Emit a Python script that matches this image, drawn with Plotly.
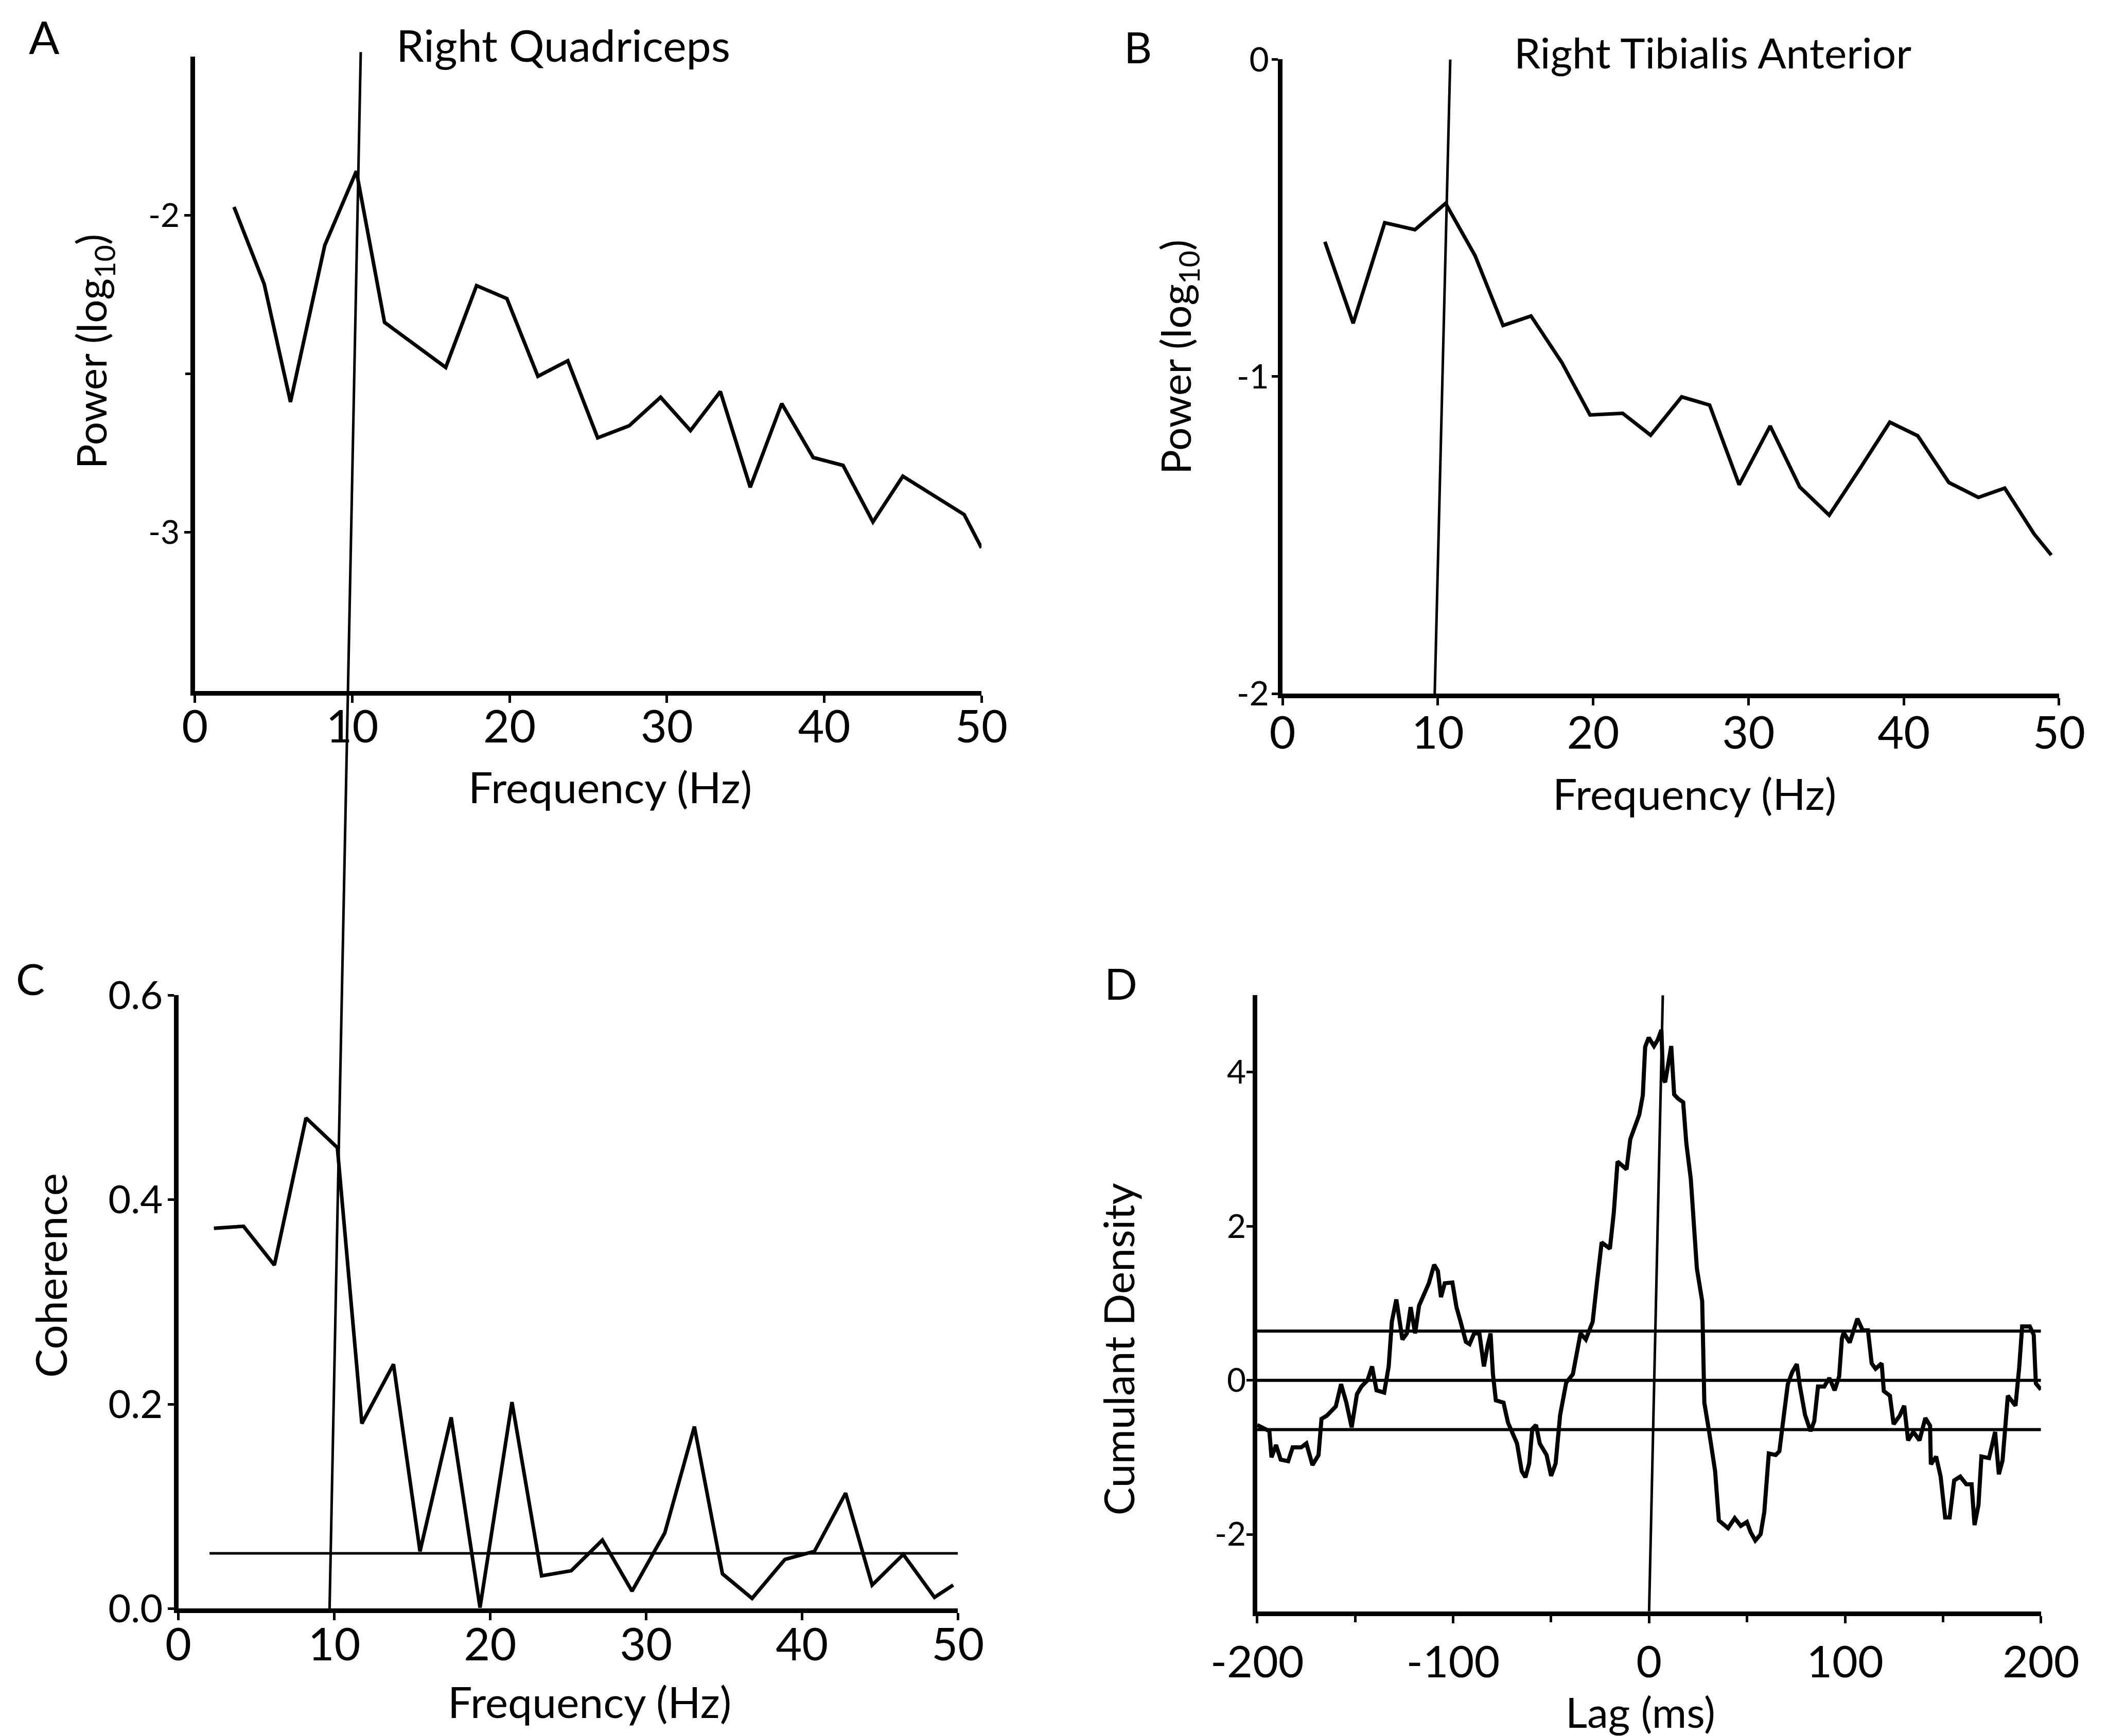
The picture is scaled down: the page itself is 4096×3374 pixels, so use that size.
import plotly.graph_objects as go

# ---------------- data ----------------
# A: Right quadriceps power spectrum (log10)
A_FREQ = [2.48, 4.40, 6.07, 8.25, 10.26, 12.05, 15.94, 17.9, 19.83, 21.8, 23.7, 25.6,
          27.6, 29.6, 31.5, 33.4, 35.3, 37.3, 39.3, 41.2, 43.1, 45.0, 48.9, 50.0]
A_POWER = [-1.974, -2.217, -2.589, -2.095, -1.861, -2.338, -2.480, -2.222, -2.263, -2.508,
           -2.459, -2.702, -2.664, -2.574, -2.679, -2.556, -2.858, -2.594, -2.764, -2.789,
           -2.967, -2.823, -2.944, -3.049]

# B: Right tibialis anterior power spectrum (log10)
B_FREQ = [2.73, 4.55, 6.58, 8.53, 10.5, 12.4, 14.2, 16.0, 18.0, 19.8, 21.9, 23.7, 25.7,
          27.5, 29.4, 31.4, 33.3, 35.2, 37.1, 39.1, 40.9, 42.9, 44.8, 46.5, 48.4, 49.5]
B_POWER = [-0.575, -0.832, -0.515, -0.537, -0.454, -0.619, -0.839, -0.809, -0.957, -1.121,
           -1.116, -1.185, -1.064, -1.090, -1.341, -1.156, -1.348, -1.437, -1.296, -1.144,
           -1.187, -1.334, -1.381, -1.352, -1.497, -1.563]

# C: coherence between the two muscles
C_FREQ = [2.28, 4.18, 6.16, 8.19, 10.2, 11.77, 13.8, 15.5, 17.5, 19.35, 21.4, 23.3, 25.2,
          27.2, 29.1, 31.2, 33.1, 34.9, 36.8, 38.9, 40.8, 42.8, 44.5, 46.5, 48.5, 49.7]
C_COHERENCE = [0.372, 0.374, 0.336, 0.480, 0.451, 0.181, 0.239, 0.056, 0.187, 0.001, 0.202,
               0.032, 0.037, 0.067, 0.017, 0.074, 0.178, 0.034, 0.010, 0.048, 0.056, 0.113,
               0.023, 0.053, 0.011, 0.023]
C_CONF_LEVEL = 0.054
C_CONF_SPAN = [2.0, 50.0]

# D: cumulant density
D_LAG = [-200, -193.8, -192.7, -190.4, -188.0, -184.2, -181.9, -177.6, -174.9, -171.8,
         -168.7, -167.2, -164.5, -159.9, -157.2, -154.5, -151.8, -149.1, -146.8, -143.7,
         -141.4, -139.1, -135.2, -132.9, -131.3, -129.0, -125.9, -123.6, -121.7, -119.4,
         -117.4, -114.4, -112.4, -109.7, -107.8, -106.2, -104.3, -100.4,
         -98.3, -96.2, -93.5, -91.6, -89.3, -86.6, -84.3, -82.4, -80.9, -79.7,
         -78.2, -74.3, -72.0, -67.4, -65.0, -63.1, -61.2, -59.6, -57.7, -55.8,
         -52.3, -50.0, -47.7, -45.4, -42.3, -38.9, -35.0, -32.3, -28.8, -26.5,
         -24.2, -20.0, -18.0, -16.1, -11.5, -9.6, -5.0, -3.2, -2.0,
         -0.2, 2.5, 4.4, 6.3, 7.1, 8.2, 9.4, 11.3, 12.8, 14.7,
         17.4, 19.0, 21.3, 22.8, 24.4, 27.1, 28.2, 30.6, 33.7, 35.6,
         37.9, 40.3, 43.7, 46.8, 49.9, 51.8, 54.2, 56.9, 58.8, 61.1,
         64.6, 66.5, 68.8, 70.8, 73.1, 75.4, 77.0, 79.6, 82.4, 84.3,
         86.2, 89.4, 92.0, 94.7, 97.0,
         98.4, 99.3, 102.4, 106.3, 109.0, 111.7, 113.6, 115.6, 118.7, 119.8,
         122.9, 124.8, 127.9, 130.2, 132.2, 134.9, 138.0, 141.0, 143.4, 143.8,
         146.5, 148.8, 151.1, 153.4, 155.7, 158.8, 161.9, 164.6, 166.1, 168.1,
         169.6, 173.5, 176.6, 178.5, 180.4, 183.1, 187.0, 188.9, 190.4, 194.3,
         196.3, 197.4, 200]
D_CUMULANT = [-0.58, -0.66, -1.0, -0.84, -1.03, -1.05, -0.87, -0.87, -0.82, -1.1,
              -0.97, -0.5, -0.46, -0.34, -0.05, -0.29, -0.61, -0.18, -0.08, 0.0,
              0.18, -0.13, -0.16, 0.18, 0.76, 1.05, 0.53, 0.61, 0.95, 0.61,
              0.97, 1.16, 1.26, 1.5, 1.42, 1.08, 1.26, 1.27,
              0.95, 0.76, 0.5, 0.47, 0.61, 0.61, 0.18, 0.45, 0.61, 0.08,
              -0.26, -0.29, -0.55, -0.82, -1.18, -1.26, -1.08, -0.63, -0.58, -0.82,
              -0.97, -1.24, -1.08, -0.45, -0.03, 0.08, 0.61, 0.53, 0.76, 1.29,
              1.79, 1.71, 2.18, 2.84, 2.74, 3.13, 3.45, 3.7, 4.33,
              4.45, 4.34, 4.42, 4.55, 3.92, 3.87, 4.05, 4.34, 3.71, 3.66,
              3.61, 3.08, 2.61, 2.03, 1.45, 1.03, -0.29, -0.66, -1.18, -1.82,
              -1.87, -1.92, -1.79, -1.89, -1.84, -1.97, -2.08, -2.0, -1.71, -0.95,
              -0.97, -0.92, -0.45, -0.05, 0.11, 0.21, -0.08, -0.45, -0.66, -0.53,
              -0.08, -0.08, 0.03, -0.13, 0.05,
              0.54, 0.62, 0.49, 0.80, 0.65, 0.65, 0.22, 0.15, 0.22, -0.14,
              -0.20, -0.57, -0.46, -0.33, -0.78, -0.67, -0.78, -0.49, -0.59, -1.09,
              -0.99, -1.25, -1.78, -1.78, -1.30, -1.25, -1.35, -1.35, -1.88, -1.62,
              -0.99, -1.01, -0.67, -1.22, -1.04, -0.20, -0.33, 0.17, 0.70, 0.70,
              0.59, -0.04, -0.12]
D_CONF_LIMIT = 0.64
D_LAG_SPAN = [-200, 200]

# cursor lines (frequency / lag at bottom and top of each cursor)
CURSOR_AC_HZ = [9.7, 11.7]     # runs from bottom of C to top of A
CURSOR_B_HZ = [9.8, 10.8]
CURSOR_D_MS = [0.0, 7.0]

FREQ_TICKS = [0, 10, 20, 30, 40, 50]
A_YTICKS = [-3, -2]
B_YTICKS = [-2, -1, 0]
C_YTICKS = [0.0, 0.2, 0.4, 0.6]
D_XTICKS = [-200, -100, 0, 100, 200]
D_YTICKS = [-2, 0, 2, 4]

# ---------------- styling ----------------
FONT = "Lato"
INK = "black"
AXIS_W = 9
DATA_W = 7
THIN_W = 5

fig = go.Figure()


def line(x, y, xa, ya, width=DATA_W):
    fig.add_trace(go.Scatter(x=x, y=y, mode="lines", xaxis=xa, yaxis=ya,
                             line=dict(color=INK, width=width), showlegend=False,
                             hoverinfo="skip"))


line(A_FREQ, A_POWER, "x", "y")
line(B_FREQ, B_POWER, "x2", "y2")
line(C_FREQ, C_COHERENCE, "x3", "y3")
line(C_CONF_SPAN, [C_CONF_LEVEL, C_CONF_LEVEL], "x3", "y3", THIN_W)
for lvl in (D_CONF_LIMIT, 0.0, -D_CONF_LIMIT):
    line(D_LAG_SPAN, [lvl, lvl], "x4", "y4", 6)
line(D_LAG, D_CUMULANT, "x4", "y4", 8)


def axis(domain, rng, tickvals, ticktext, size, ticklen, standoff, anchor, minor=None):
    d = dict(domain=domain, range=rng, tickmode="array", tickvals=tickvals,
             ticktext=ticktext, ticks="outside", ticklen=ticklen, tickwidth=5,
             tickcolor=INK, showline=True, linewidth=AXIS_W, linecolor=INK,
             showgrid=False, zeroline=False, anchor=anchor, automargin=False,
             tickfont=dict(family=FONT, size=size, color=INK),
             ticklabelstandoff=standoff)
    if minor:
        d["minor"] = minor
    return d


def fmt(vals, pattern="{:g}"):
    return [pattern.format(v).replace("\u2212", "-") for v in vals]


fig.update_layout(
    width=4096, height=3374,
    margin=dict(l=0, r=0, t=0, b=0, pad=0, autoexpand=False),
    paper_bgcolor="white", plot_bgcolor="white",
    xaxis=axis([0.0925, 0.4656], [0, 50], FREQ_TICKS, fmt(FREQ_TICKS), 88, 14, -28, "y"),
    yaxis=axis([0.602, 0.9674], [-3.5, -1.5], A_YTICKS, fmt(A_YTICKS), 64, 12, -4, "x",
               minor=dict(tickvals=[-2.5], ticklen=10, tickwidth=5, ticks="outside",
                          tickcolor=INK)),
    xaxis2=axis([0.6084, 0.9768], [0, 50], FREQ_TICKS, fmt(FREQ_TICKS), 88, 14, -22, "y2"),
    yaxis2=axis([0.6004, 0.9658], [-2, 0], B_YTICKS, fmt(B_YTICKS), 66, 12, -8, "x2"),
    xaxis3=axis([0.0846, 0.4544], [0, 50], FREQ_TICKS, fmt(FREQ_TICKS), 88, 14, -28, "y3"),
    yaxis3=axis([0.0734, 0.4267], [0, 0.6], C_YTICKS, fmt(C_YTICKS, "{:.1f}"), 76, 12, -6, "x3"),
    xaxis4=axis([0.5964, 0.9682], [-200, 200], D_XTICKS, fmt(D_XTICKS), 86, 14, 2, "y4",
                minor=dict(tickvals=[-150, -50, 50, 150], ticklen=12, tickwidth=5,
                           ticks="outside", tickcolor=INK)),
    yaxis4=axis([0.0718, 0.4267], [-3, 5], D_YTICKS, fmt(D_YTICKS), 64, 12, -12, "x4"),
)

# cursor lines
fig.add_shape(type="line", xref="x3", yref="paper",
              x0=CURSOR_AC_HZ[0], y0=0.0734, x1=CURSOR_AC_HZ[1], y1=0.970,
              line=dict(color=INK, width=THIN_W), layer="above")
fig.add_shape(type="line", xref="x2", yref="y2",
              x0=CURSOR_B_HZ[0], y0=-2, x1=CURSOR_B_HZ[1], y1=0,
              line=dict(color=INK, width=THIN_W), layer="above")
fig.add_shape(type="line", xref="x4", yref="y4",
              x0=CURSOR_D_MS[0], y0=-3, x1=CURSOR_D_MS[1], y1=5,
              line=dict(color=INK, width=THIN_W), layer="above")


def text(s, x, y, size, angle=0):
    fig.add_annotation(text=s, x=x, y=y, xref="paper", yref="paper",
                       xanchor="center", yanchor="middle", showarrow=False,
                       textangle=angle, font=dict(family=FONT, size=size, color=INK))


# panel letters
text("A", 0.0209, 0.9791, 88)
text("B", 0.5398, 0.9731, 84)
text("C", 0.0144, 0.4364, 84)
text("D", 0.5318, 0.4338, 84)

# titles
text("Right Quadriceps", 0.2672, 0.9745, 86)
text("Right Tibialis Anterior", 0.8124, 0.9700, 82)

# axis titles
text("Frequency (Hz)", 0.2894, 0.5470, 84)
text("Frequency (Hz)", 0.8038, 0.5430, 84)
text("Frequency (Hz)", 0.2797, 0.0200, 84)
text("Lag (ms)", 0.7782, 0.0142, 82)
text("Power (log<sub>10</sub>)", 0.0445, 0.7976, 80, -90)
text("Power (log<sub>10</sub>)", 0.5590, 0.7942, 80, -90)
text("Coherence", 0.0239, 0.2653, 84, -90)
text("Cumulant Density", 0.5303, 0.2228, 82, -90)

fig.write_html("out.html")
